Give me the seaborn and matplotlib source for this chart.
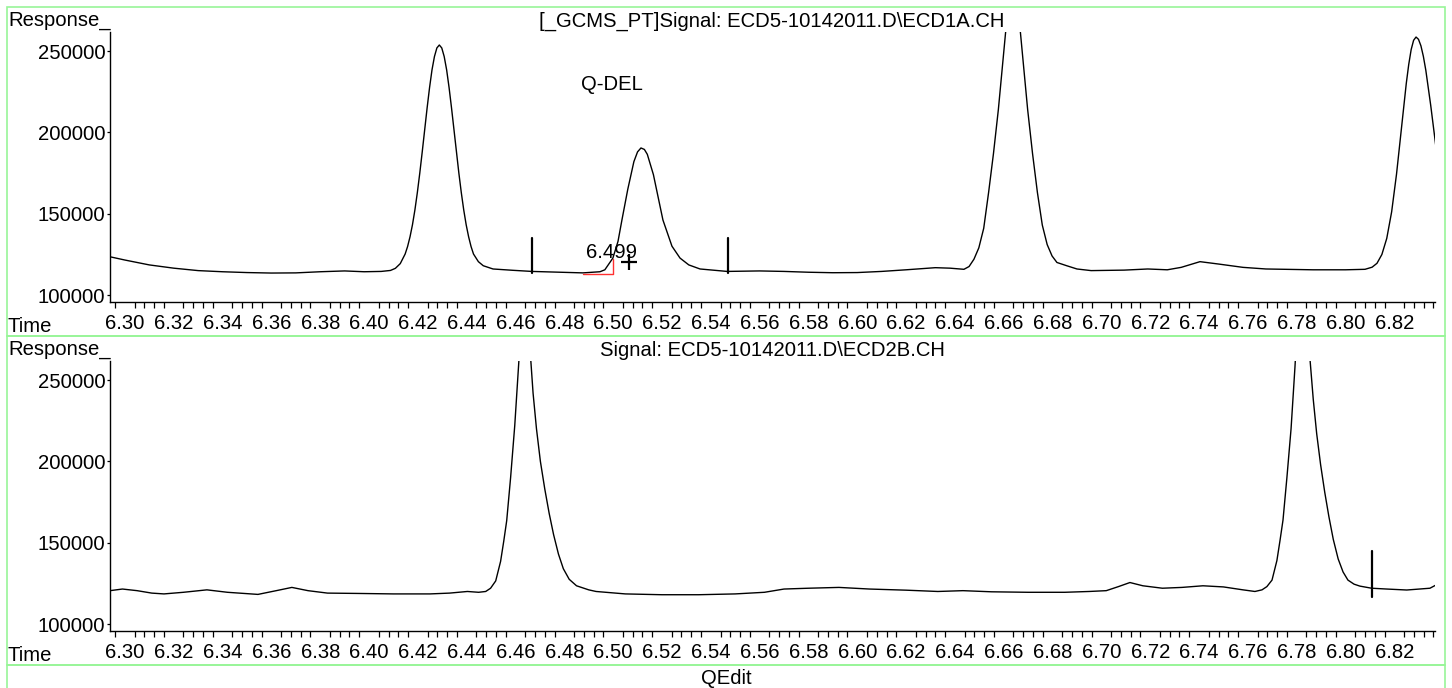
import matplotlib
matplotlib.use("Agg")
import pandas as pd
import matplotlib.pyplot as plt
import seaborn as sns
from matplotlib.patches import Rectangle
from matplotlib.ticker import MultipleLocator, FormatStrFormatter

# signal 1 : ECD1A
time_a = [6.2939, 6.3000, 6.3100, 6.3200, 6.3300, 6.3400, 6.3500, 6.3600, 6.3700, 6.3800,
          6.3900, 6.3980, 6.4050, 6.4088, 6.4108, 6.4128, 6.4148, 6.4158, 6.4168, 6.4178,
          6.4188, 6.4198, 6.4208, 6.4218, 6.4228, 6.4238, 6.4248, 6.4258, 6.4268, 6.4278,
          6.4288, 6.4298, 6.4308, 6.4318, 6.4328, 6.4338, 6.4348, 6.4358, 6.4368, 6.4378,
          6.4388, 6.4398, 6.4408, 6.4418, 6.4428, 6.4448, 6.4468, 6.4508, 6.4588, 6.4667,
          6.4780, 6.4876, 6.4946, 6.4966, 6.4999, 6.5020, 6.5036, 6.5060, 6.5085, 6.5100,
          6.5114, 6.5128, 6.5140, 6.5165, 6.5204, 6.5241, 6.5274, 6.5310, 6.5356, 6.5467,
          6.5600, 6.5700, 6.5800, 6.5900, 6.6000, 6.6100, 6.6200, 6.6320, 6.6380, 6.6437,
          6.6458, 6.6478, 6.6498, 6.6518, 6.6538, 6.6558, 6.6578, 6.6598, 6.6618, 6.6638,
          6.6658, 6.6678, 6.6698, 6.6718, 6.6738, 6.6758, 6.6778, 6.6798, 6.6818, 6.6858,
          6.6900, 6.6958, 6.7093, 6.7190, 6.7270, 6.7327, 6.7404, 6.7482, 6.7580, 6.7674,
          6.7867, 6.8000, 6.8080, 6.8109, 6.8129, 6.8149, 6.8169, 6.8189, 6.8209, 6.8229,
          6.8249, 6.8259, 6.8269, 6.8279, 6.8289, 6.8299, 6.8309, 6.8319, 6.8329, 6.8349,
          6.8369, 6.8375]
resp_a = [123500, 121500, 118500, 116500, 115000, 114300, 113800, 113500, 113600, 114300,
          114800, 114300, 114500, 115100, 116400, 119300, 125200, 129800, 135800, 143200,
          152300, 163000, 175000, 188000, 201600, 215000, 227500, 238400, 246600, 251900,
          253700, 251900, 246600, 238400, 227500, 215000, 201600, 188000, 175000, 163000,
          152300, 143200, 135800, 129800, 125200, 120500, 118000, 116000, 115200, 114500,
          114000, 113600, 114300, 115500, 122700, 133000, 146100, 165000, 182000, 188000,
          190400, 189500, 186500, 174000, 146100, 130000, 122700, 118500, 116000, 114500,
          114800, 114500, 114000, 113700, 113800, 114500, 115500, 116800, 116500, 115800,
          117500, 122000, 129000, 141000, 163000, 187000, 214000, 246000, 278000, 292000,
          278000, 246000, 214000, 187000, 163000, 143000, 131000, 124000, 120000, 118000,
          116000, 115000, 115300, 116000, 115500, 117000, 120500, 119000, 117000, 116000,
          115500, 115500, 115800, 117100, 119500, 124900, 134800, 151100, 174300, 202400,
          230100, 241700, 250900, 256600, 258600, 257200, 253200, 246700, 238200, 216700,
          192800, 185600]

# signal 2 : ECD2B
time_b = [6.2939, 6.2990, 6.3050, 6.3110, 6.3160, 6.3240, 6.3336, 6.3420, 6.3545, 6.3620,
          6.3684, 6.3750, 6.3830, 6.3950, 6.4100, 6.4250, 6.4330, 6.4403, 6.4449, 6.4478,
          6.4498, 6.4519, 6.4539, 6.4552, 6.4564, 6.4580, 6.4597, 6.4614, 6.4625, 6.4636,
          6.4648, 6.4660, 6.4672, 6.4686, 6.4702, 6.4720, 6.4738, 6.4756, 6.4776, 6.4796,
          6.4820, 6.4850, 6.4900, 6.4930, 6.5050, 6.5200, 6.5350, 6.5500, 6.5620, 6.5700,
          6.5800, 6.5925, 6.6050, 6.6200, 6.6330, 6.6433, 6.6550, 6.6700, 6.6850, 6.6950,
          6.7020, 6.7070, 6.7117, 6.7170, 6.7250, 6.7330, 6.7416, 6.7500, 6.7580, 6.7629,
          6.7658, 6.7678, 6.7699, 6.7719, 6.7732, 6.7744, 6.7760, 6.7777, 6.7793, 6.7805,
          6.7818, 6.7830, 6.7842, 6.7855, 6.7868, 6.7882, 6.7898, 6.7915, 6.7932, 6.7950,
          6.7970, 6.7990, 6.8010, 6.8035, 6.8059, 6.8107, 6.8169, 6.8251, 6.8346, 6.8371]
resp_b = [120500, 121500, 120500, 119000, 118500, 119500, 121000, 119500, 118200, 120500,
          122500, 120500, 119000, 118800, 118500, 118500, 119000, 120000, 119500, 120000,
          122000, 126500, 138500, 151000, 163500, 190000, 222000, 262000, 295000, 318000,
          300000, 268000, 242000, 220000, 200000, 183000, 168000, 155000, 143000, 134000,
          127500, 123500, 121000, 120000, 118500, 118000, 118000, 118500, 119500, 121500,
          122000, 122500, 121500, 120800, 120000, 120500, 119800, 119500, 119500, 120000,
          120500, 123000, 125500, 123500, 122000, 122500, 123500, 122800, 121000, 120000,
          121000, 123000, 127000, 139000, 151600, 163900, 190000, 220000, 258000, 290000,
          315000, 315000, 290000, 262000, 238000, 217000, 198000, 181000, 166000, 152000,
          140000, 132000, 127000, 124500, 123300, 122000, 121500, 120900, 122000, 124000]

y_ticks = [100000, 150000, 200000, 250000]
titles = ["[_GCMS_PT]Signal: ECD5-10142011.D\\ECD1A.CH",
          "Signal: ECD5-10142011.D\\ECD2B.CH"]

# integration markers
markers_a = [6.4667, 6.5470]
marker_a_span = (113500, 135000)
markers_b = [6.8107]
marker_b_span = (116800, 144900)
compound = "Q-DEL"
rt_label = "6.499"

W, H = 1452, 688
sns.set_style("white")
plt.rcParams['font.family'] = ['Liberation Sans', 'DejaVu Sans']
plt.rcParams['text.color'] = 'black'
plt.rcParams['xtick.color'] = 'black'
plt.rcParams['ytick.color'] = 'black'
FS = 14.6

fig = plt.figure(figsize=(W / 100, H / 100), dpi=100)


def fx(px):
    return px / W


def fy(py):
    return 1 - py / H


green = '#98F598'
for top, bot in [(7, 336), (336, 665), (665, 700)]:
    fig.add_artist(Rectangle((fx(7), fy(bot)), fx(1445) - fx(7), fy(top) - fy(bot),
                             transform=fig.transFigure, fill=False, edgecolor=green, lw=1.2))

panels = [(time_a, resp_a, 32, titles[0]), (time_b, resp_b, 361, titles[1])]
axes = []
for t, r, top_px, title in panels:
    ax = fig.add_axes([fx(110), fy(top_px + 270), fx(1434.6) - fx(110), 270 / H])
    df = pd.DataFrame({'time': t, 'resp': r})
    sns.lineplot(data=df, x='time', y='resp', ax=ax, color='black', lw=1.0,
                 estimator=None, sort=False)
    ax.set_xlim(6.2939, 6.8365)
    ax.set_ylim(95700, 261700)
    ax.set_xlabel('')
    ax.set_ylabel('')
    ax.set_yticks(y_ticks)
    ax.set_yticklabels([str(v) for v in y_ticks])
    ax.xaxis.set_major_locator(MultipleLocator(0.02))
    ax.xaxis.set_minor_locator(MultipleLocator(0.004))
    ax.xaxis.set_major_formatter(FormatStrFormatter('%.2f'))
    ax.tick_params(axis='x', which='major', direction='out', length=8, width=0.9,
                   labelsize=FS, pad=0.5, colors='black')
    ax.tick_params(axis='x', which='minor', direction='out', length=4, width=0.9,
                   colors='black', bottom=True)
    ax.tick_params(axis='y', direction='out', length=2.5, width=0.9, labelsize=FS,
                   pad=1, colors='black', left=True)
    for s in ['top', 'right']:
        ax.spines[s].set_visible(False)
    for s in ['left', 'bottom']:
        ax.spines[s].set_color('black')
        ax.spines[s].set_linewidth(1.0)
    ax.patch.set_alpha(0)

    fig.text(fx(8), fy(top_px - 6), 'Response_', fontsize=FS, va='baseline', ha='left')
    fig.text(fx(772), fy(top_px - 5), title, fontsize=FS, va='baseline', ha='center')
    fig.text(fx(8), fy(top_px + 300), 'Time', fontsize=FS, va='baseline', ha='left')
    axes.append(ax)

ax_a, ax_b = axes
for m in markers_a:
    ax_a.plot([m, m], marker_a_span, color='black', lw=1.6)
for m in markers_b:
    ax_b.plot([m, m], marker_b_span, color='black', lw=1.6)

ax_a.text(6.4995, 229700, compound, fontsize=FS, ha='center', va='center')
ax_a.text(6.4995, 122700, rt_label, fontsize=FS, ha='center', va='baseline')
ax_a.plot([6.5065], [120300], marker='+', color='black', ms=11, mew=1.6)
ax_a.plot([6.4876, 6.4999, 6.4999], [112900, 112900, 122100], color='#FF3030', lw=1.0)

fig.text(fx(726), fy(684), 'QEdit', fontsize=FS, va='baseline', ha='center')

fig.savefig('out.png', dpi=100)
